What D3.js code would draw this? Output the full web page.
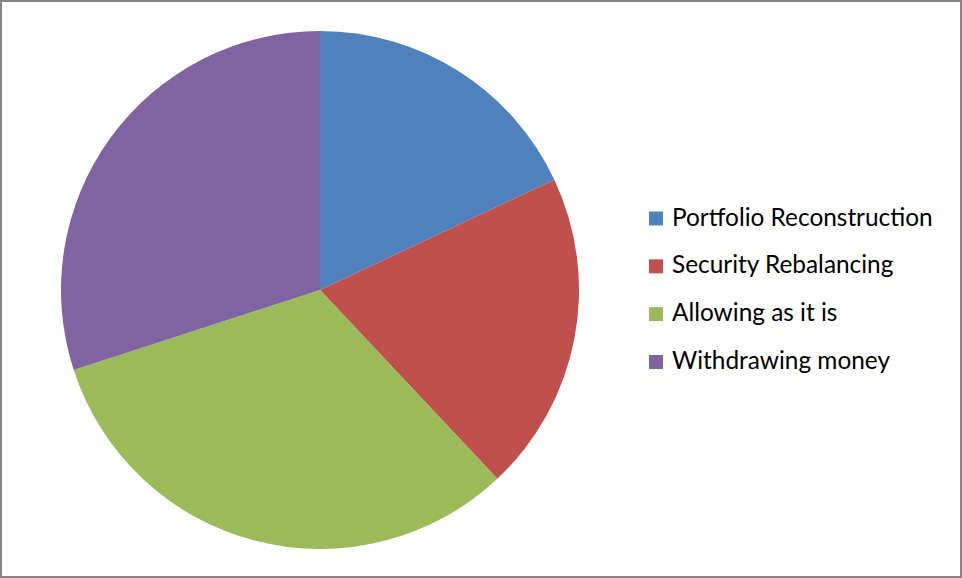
<!DOCTYPE html>
<html>
<head>
<meta charset="utf-8">
<script src="https://cdn.jsdelivr.net/npm/d3@7"></script>
<style>
  html, body { margin: 0; padding: 0; background: #fff; }
  svg { display: block; }
</style>
</head>
<body>
<svg id="chart" width="962" height="578"></svg>
<script>
// Responses to portfolio action, share of respondents (%)
const categories = ["Portfolio Reconstruction", "Security Rebalancing", "Allowing as it is", "Withdrawing money"];
const values = [18, 20, 32, 30];
const colors = ["#4f81bd", "#c0504d", "#9bbb59", "#8064a2"];

const width = 962, height = 578;
const svg = d3.select("#chart");

// chart frame
svg.append("rect")
  .attr("x", 1).attr("y", 1)
  .attr("width", width - 2).attr("height", height - 2)
  .attr("fill", "#fff")
  .attr("stroke", "#868686")
  .attr("stroke-width", 2);

const cx = 320, cy = 290, radius = 259;

const pie = d3.pie().value(d => d).sort(null);
const arc = d3.arc().innerRadius(0).outerRadius(radius);

const g = svg.append("g").attr("transform", `translate(${cx},${cy})`);
g.selectAll("path")
  .data(pie(values))
  .join("path")
  .attr("d", arc)
  .attr("fill", (d, i) => colors[i]);

// legend
const legendY = d3.scalePoint().domain(categories).range([225.5, 369]);
const legend = svg.append("g");
const item = legend.selectAll("g")
  .data(categories)
  .join("g")
  .attr("transform", d => `translate(649,${legendY(d)})`);

item.append("rect")
  .attr("x", 0).attr("y", -14)
  .attr("width", 14).attr("height", 14)
  .attr("fill", (d, i) => colors[i]);

item.append("text")
  .attr("x", 23).attr("y", 0)
  .attr("font-family", "Lato, 'Open Sans', sans-serif")
  .attr("font-size", 24.4)
  .attr("fill", "#000")
  .text(d => d);
</script>
</body>
</html>
